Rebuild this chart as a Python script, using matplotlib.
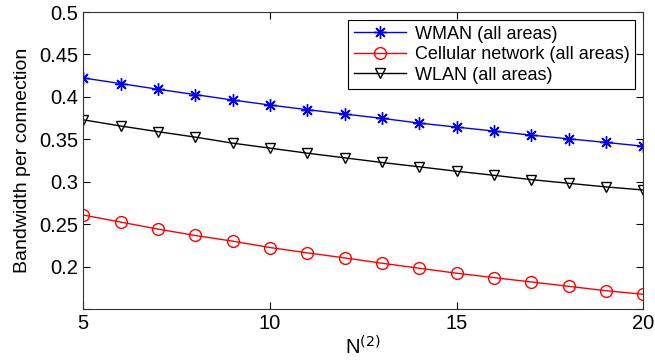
import matplotlib
matplotlib.use("Agg")
import matplotlib.pyplot as plt

plt.rcParams['font.family'] = ['Liberation Sans', 'DejaVu Sans']

n2 = list(range(5, 21))
wman = [0.4223, 0.4157, 0.4090, 0.4027, 0.3963, 0.3904, 0.3849, 0.3798,
        0.3747, 0.3691, 0.3644, 0.3597, 0.3549, 0.3506, 0.3463, 0.3419]
cellular = [0.2608, 0.2525, 0.2442, 0.2367, 0.2300, 0.2225, 0.2162, 0.2103,
            0.2040, 0.1981, 0.1922, 0.1870, 0.1819, 0.1768, 0.1716, 0.1674]
wlan = [0.3730, 0.3657, 0.3590, 0.3526, 0.3455, 0.3396, 0.3337, 0.3282,
        0.3227, 0.3176, 0.3124, 0.3076, 0.3025, 0.2982, 0.2939, 0.2903]

fig = plt.figure(figsize=(6.55, 3.64), dpi=100)
ax = fig.add_axes([0.127, 0.151, 0.855, 0.816])

# 8-spoke asterisk, like the classic '*' marker
ax.plot(n2, wman, color='blue', marker=(8, 2, 0), ms=9, mew=1, lw=1,
        label='WMAN (all areas)')
ax.plot(n2, cellular, color='red', marker='o', ms=8.5, mfc='none', mew=1,
        lw=1, label='Cellular network (all areas)')
ax.plot(n2, wlan, color='black', marker='v', ms=7.5, mfc='none', mew=1,
        lw=1, label='WLAN (all areas)')

ax.set_xlim(5, 20)
ax.set_ylim(0.15, 0.5)
ax.set_xticks([5, 10, 15, 20])
ax.set_yticks([0.15, 0.2, 0.25, 0.3, 0.35, 0.4, 0.45, 0.5])
ax.set_yticklabels(['', '0.2', '0.25', '0.3', '0.35', '0.4', '0.45', '0.5'])
ax.tick_params(direction='in', top=True, right=True, labelsize=14.5,
               length=5, width=0.8)
for s in ax.spines.values():
    s.set_linewidth(0.8)
    s.set_color('#333333')

ax.set_xlabel('N$^{(2)}$', fontsize=14.5, labelpad=2)
ax.set_ylabel('Bandwidth per connection', fontsize=14, labelpad=6)

leg = ax.legend(loc='upper right', fontsize=13, fancybox=False,
                edgecolor='black', framealpha=1, borderpad=0.3,
                labelspacing=0.2, handlelength=2.9, handletextpad=0.5,
                borderaxespad=0.45)
leg.get_frame().set_linewidth(0.8)

fig.savefig('out.png', dpi=100)
